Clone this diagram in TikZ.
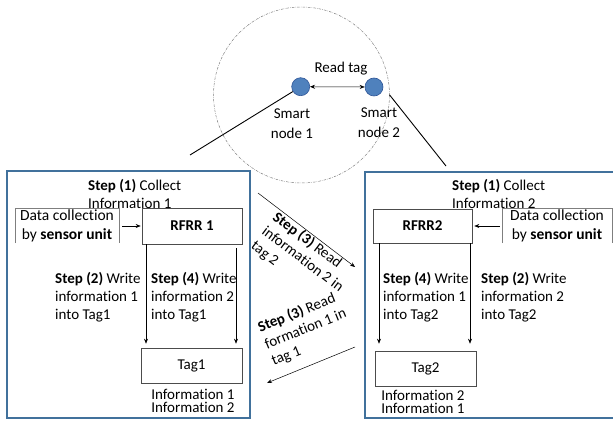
\documentclass[tikz,border=0pt]{standalone}
\usepackage{fontspec}
\setmainfont{Carlito}[Ligatures={NoCommon,NoRequired,NoContextual},RawFeature={-calt}]
\usetikzlibrary{arrows.meta}
\newcommand{\tk}{\kern0pt }
\definecolor{frameblue}{HTML}{41719C}
\definecolor{dotfill}{HTML}{4F81BD}
\definecolor{dotedge}{HTML}{2F5597}
\definecolor{boxgray}{HTML}{7F7F7F}
\tikzset{
  txt/.style={inner sep=0pt, anchor=north west, align=left, font=\fontsize{15}{18}\selectfont},
  infotxt/.style={inner sep=0pt, anchor=north, align=center, font=\fontsize{15}{13}\selectfont},
  frame/.style={draw=frameblue, line width=2pt},
  plainbox/.style={draw=black!70, line width=0.6pt, inner sep=0pt, font=\fontsize{15}{18}\selectfont},
  dot/.style={circle, fill=dotfill, draw=dotedge, line width=0.6pt, minimum size=18pt, inner sep=0pt},
  arr/.style={-{Stealth[length=5pt,width=4pt]}, line width=0.5pt},
  darr/.style={{Stealth[length=5pt,width=4pt]}-{Stealth[length=5pt,width=4pt]}, line width=0.5pt},
  link/.style={line width=0.9pt},
}
\begin{document}
\begin{tikzpicture}[x=1pt,y=-1pt]
\useasboundingbox (0,0) rectangle (613,422);
\clip (0,0) rectangle (613,422);
% zone circle
\draw[boxgray, line width=0.5pt, dash pattern=on 2.5pt off 1.2pt on 0.5pt off 1.2pt] (301.5,95) circle (88);
% smart nodes
\node[dot] (sn1) at (300.7,86.7) {};
\node[dot] (sn2) at (374,87) {};
\draw[darr] (sn1) -- (sn2);
\node[inner sep=0pt, font=\fontsize{15}{18}\selectfont] (rt) at (341,69) {Read tag};
\node[inner sep=0pt, align=center, font=\fontsize{15}{20}\selectfont, anchor=north] (sl1) at (292,109) {Smart\\node 1};
\node[inner sep=0pt, align=center, font=\fontsize{15}{20}\selectfont, anchor=north] (sl2) at (379,108) {Smart\\node 2};
% frames
\draw[frame] (7,171) rectangle (250,418);
\draw[frame] (365,172) rectangle (618,418);
% connector lines
\coordinate (l1) at (190,155);
\coordinate (r2) at (446,166);
\draw[link] (sn1) -- (l1);
\draw[link, shorten <=10pt] (sn2.east) -- (r2);
% column guides
\coordinate (xa) at (146,0);
\coordinate (xb) at (236,0);
\coordinate (xc) at (379,0);
\coordinate (xd) at (470,0);
% ---------- left box ----------
\node[txt] (c1) at (88,179) {\textbf{Step (1)} Collect\\Informat\tk ion 1};
\node[inner sep=0pt, minimum width=104pt, minimum height=34pt, align=center, font=\fontsize{15.5}{19}\selectfont] (dc1) at (67,226) {Data collect\tk ion\\by \textbf{sensor unit}};
\draw[boxgray, line width=0.6pt] (dc1.south west) -- (dc1.north west) -- (dc1.north east) -- (dc1.south east);
\node[plainbox, minimum width=100pt, minimum height=36pt] (rf1) at (192,226) {\textbf{RFRR 1}};
\draw[arr, shorten <=3pt, shorten >=1pt] (dc1.east) -- (rf1.west);
\node[plainbox, minimum width=101pt, minimum height=35pt] (tg1) at (191.5,365.5) {Tag1};
\draw[arr, shorten >=4pt] (rf1.south -| xa) -- (tg1.north -| xa);
\draw[arr, shorten <=4pt, shorten >=4pt] (rf1.south -| xb) -- (tg1.north -| xb);
\node[txt] (s2l) at (55,272) {\textbf{Step (2)} Write\\informat\tk ion 1\\into Tag1};
\node[txt] (s4l) at (151,272) {\textbf{Step (4)} Write\\informat\tk ion 2\\into Tag1};
\node[infotxt] (inf1) at (193,389) {Informat\tk ion 1\\Informat\tk ion 2};
% ---------- right box ----------
\node[txt] (c2) at (452,179) {\textbf{Step (1)} Collect\\Informat\tk ion 2};
\node[plainbox, minimum width=99pt, minimum height=34pt] (rf2) at (422.5,226) {\textbf{RFRR2}};
\node[inner sep=0pt, minimum width=110pt, minimum height=34pt, align=center, font=\fontsize{15.5}{19}\selectfont] (dc2) at (557,226) {Data collect\tk ion\\by \textbf{sensor unit}};
\draw[boxgray, line width=0.6pt] (dc2.south west) -- (dc2.north west) -- (dc2.north east) -- (dc2.south east);
\draw[arr, shorten <=2pt, shorten >=2pt] (dc2.west) -- (rf2.east);
\node[plainbox, minimum width=101pt, minimum height=35pt] (tg2) at (425.5,368.5) {Tag2};
\draw[arr, shorten >=7pt] (rf2.south -| xc) -- (tg2.north -| xc);
\draw[arr, shorten >=7pt] (rf2.south -| xd) -- (tg2.north -| xd);
\node[txt] (s4r) at (383,272) {\textbf{Step (4)} Write\\informat\tk ion 1\\into Tag2};
\node[txt] (s2r) at (481,272) {\textbf{Step (2)} Write\\informat\tk ion 2\\into Tag2};
\node[infotxt] (inf2) at (423,390) {Informat\tk ion 2\\Informat\tk ion 1};
% ---------- middle arrows ----------
\coordinate (m1s) at (258,193);
\coordinate (m1e) at (355,267);
\coordinate (m2s) at (355,347);
\coordinate (m2e) at (267,383);
\draw[arr] (m1s) -- (m1e);
\draw[arr] (m2s) -- (m2e);
\node[txt, rotate=-37] (m1l) at (278.6,210) {\textbf{Step (3)} Read\\informat\tk ion 2 in\\tag 2};
\node[txt, rotate=22] (m2l) at (256,322) {\textbf{Step (3)} Read\\format\tk ion 1 in\\tag 1};
\end{tikzpicture}
\end{document}
